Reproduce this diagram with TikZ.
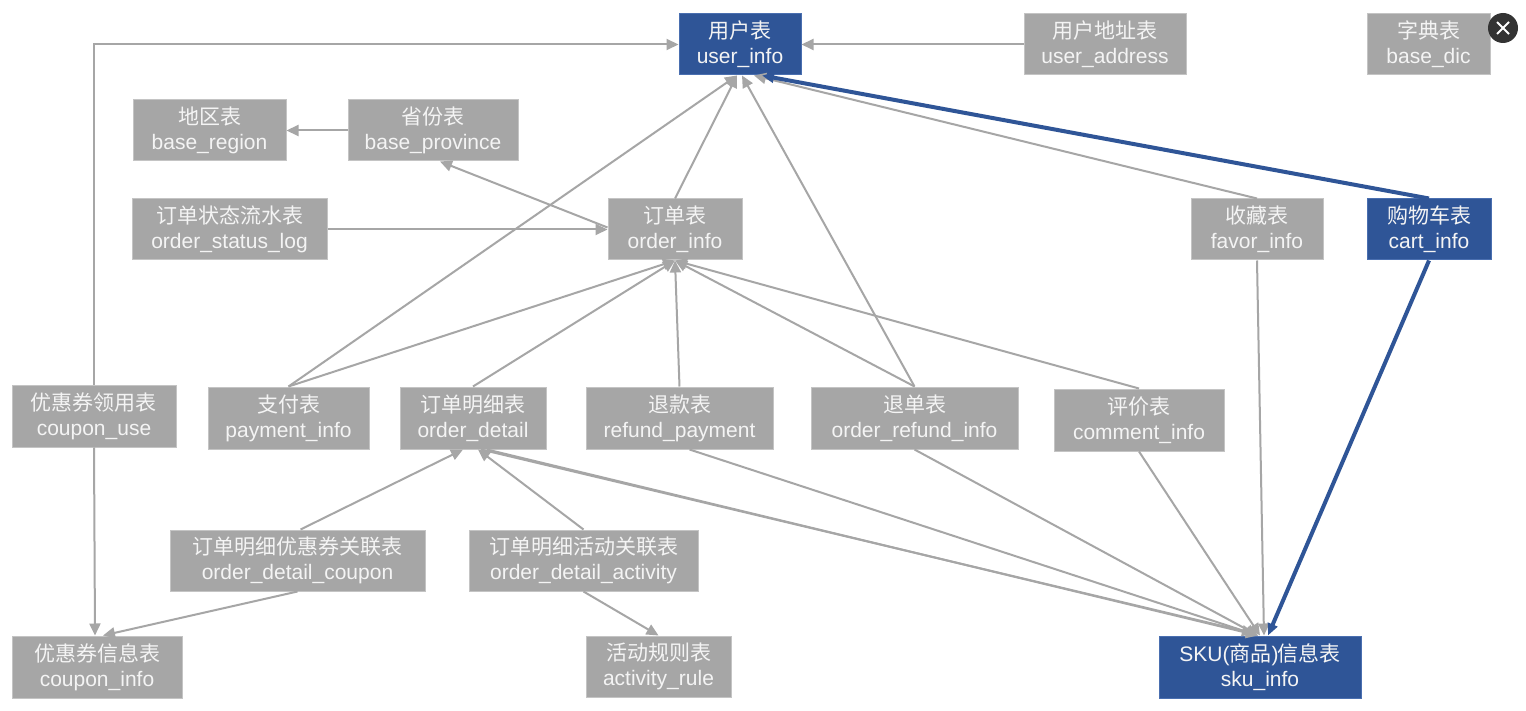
\documentclass[tikz,border=0pt]{standalone}
\usepackage{fontspec}
\setmainfont{Liberation Sans}
\newfontfamily\cjk{Noto Sans CJK SC}
\usetikzlibrary{arrows.meta,calc}
\definecolor{boxgray}{HTML}{A6A6A6}
\definecolor{boxedge}{HTML}{C4C4C4}
\definecolor{linegray}{HTML}{A6A6A6}
\definecolor{bluebox}{HTML}{2F5597}
\definecolor{blueedge}{HTML}{4A6FB0}
\definecolor{txt}{HTML}{F4F4F4}
\definecolor{closebtn}{HTML}{333333}
\begin{document}
\begin{tikzpicture}[x=0.5pt,y=-0.5pt,
  tbl/.style={rectangle, inner sep=0pt, align=center, text=txt, line width=0.5pt,
    font=\fontsize{10.5pt}{12.5pt}\selectfont},
  gtbl/.style={tbl, fill=boxgray, draw=boxedge},
  btbl/.style={tbl, fill=bluebox, draw=blueedge},
  conn/.style={draw=linegray, line width=1pt, -{Triangle[length=6pt,width=5.5pt]}},
  bconn/.style={draw=bluebox, line width=2pt, -{Triangle[length=6pt,width=5pt]}},
]
\useasboundingbox (0,0) rectangle (1526,711);
\fill[white] (0,0) rectangle (1526,711);

% ---------- nodes ----------
\node[btbl, minimum width=61pt, minimum height=30.5pt] (ui) at (740,44.5) {{\cjk 用户表}\\user\_info};
\node[gtbl, minimum width=81pt, minimum height=30.5pt] (ua) at (1105,44.5) {{\cjk 用户地址表}\\user\_address};
\node[gtbl, minimum width=61.5pt, minimum height=30.5pt] (dic) at (1428.5,44.5) {{\cjk 字典表}\\base\_dic};
\node[gtbl, minimum width=76.5pt, minimum height=30.5pt] (br) at (209.5,130.5) {{\cjk 地区表}\\base\_region};
\node[gtbl, minimum width=85pt, minimum height=30.5pt] (bp) at (433,130.5) {{\cjk 省份表}\\base\_province};
\node[gtbl, minimum width=97.5pt, minimum height=30.5pt] (osl) at (229.5,229.5) {{\cjk 订单状态流水表}\\order\_status\_log};
\node[gtbl, minimum width=67pt, minimum height=30.5pt] (oi) at (675,229.5) {{\cjk 订单表}\\order\_info};
\node[gtbl, minimum width=66pt, minimum height=30.5pt] (fi) at (1257,229.5) {{\cjk 收藏表}\\favor\_info};
\node[btbl, minimum width=62pt, minimum height=30.5pt] (cart) at (1429,229.5) {{\cjk 购物车表}\\cart\_info};
\node[gtbl, minimum width=82pt, minimum height=31pt] (cu) at (94,416) {{\cjk 优惠券领用表}\\coupon\_use};
\node[gtbl, minimum width=80.5pt, minimum height=31pt] (pay) at (288.5,418) {{\cjk 支付表}\\payment\_info};
\node[gtbl, minimum width=73pt, minimum height=31pt] (od) at (473,418) {{\cjk 订单明细表}\\order\_detail};
\node[gtbl, minimum width=93.5pt, minimum height=31pt] (rp) at (679.5,418) {{\cjk 退款表}\\refund\_payment};
\node[gtbl, minimum width=103.5pt, minimum height=31pt] (ori) at (914.5,418) {{\cjk 退单表}\\order\_refund\_info};
\node[gtbl, minimum width=85pt, minimum height=31pt] (ci) at (1139,420) {{\cjk 评价表}\\comment\_info};
\node[gtbl, minimum width=127.5pt, minimum height=30.5pt] (odc) at (297.5,560.5) {{\cjk 订单明细优惠券关联表}\\order\_detail\_coupon};
\node[gtbl, minimum width=114.5pt, minimum height=30.5pt] (oda) at (583.5,560.5) {{\cjk 订单明细活动关联表}\\order\_detail\_activity};
\node[gtbl, minimum width=85pt, minimum height=31pt] (cinfo) at (97,667) {{\cjk 优惠券信息表}\\coupon\_info};
\node[gtbl, minimum width=72.5pt, minimum height=30.5pt] (ar) at (658.5,666.5) {{\cjk 活动规则表}\\activity\_rule};
\node[btbl, minimum width=101pt, minimum height=31pt] (sku) at (1260,667) {SKU({\cjk 商品})\kern-0.5pt{\cjk 信息表}\\sku\_info};

% close button
\node[circle, fill=closebtn, minimum size=15pt, inner sep=0pt] (close) at (1503,28) {};
\draw[white, line width=1pt] ($(close.center)+(-6,-6)$) -- ($(close.center)+(6,6)$);
\draw[white, line width=1pt] ($(close.center)+(-6,6)$) -- ($(close.center)+(6,-6)$);

% ---------- connectors ----------
\draw[conn] (cu.north) |- (ui.west);
\draw[conn] (ua.west) -- (ui.east);
\draw[conn] (bp.west) -- (br.east);
\draw[conn] ($(oi.west)+(0,-2)$) -- ($(bp.south)+(7,0)$);
\draw[conn] (osl.east) -- (oi.west);

\draw[conn] (oi.north) -- ($(ui.south)+(-3,0)$);
\draw[conn] (pay.north) -- ($(ui.south)+(-3,0)$);
\draw[conn] (pay.north) -- (oi.south);
\draw[conn] (od.north) -- (oi.south);
\draw[conn] (rp.north) -- (oi.south);
\draw[conn] (ori.north) -- (oi.south);
\draw[conn] (ci.north) -- (oi.south);
\draw[conn] (ori.north) -- ($(ui.south)+(2,0)$);
\draw[conn] (fi.north) -- ($(ui.south)+(14,0)$);
\draw[bconn] (cart.north) -- ($(ui.south)+(22,0)$);

\draw[conn] ($(odc.north)+(3,0)$) -- ($(od.south)+(-10,0)$);
\draw[conn] (oda.north) -- ($(od.south)+(5,0)$);

\draw[conn] ($(od.south)+(8,0)$) -- ($(sku.north)+(-6,-2)$);
\draw[conn] ($(od.south)+(14,0)$) -- ($(sku.north)+(-2,0)$);
\draw[conn] ($(rp.south)+(10,0)$) -- ($(sku.north)+(-2,0)$);
\draw[conn] (ori.south) -- ($(sku.north)+(-2,0)$);
\draw[conn] (ci.south) -- ($(sku.north)+(0,0)$);
\draw[conn] (fi.south) -- ($(sku.north)+(4,0)$);
\draw[bconn] (cart.south) -- ($(sku.north)+(8,0)$);

\draw[conn] (cu.south) -- ($(cinfo.north)+(-2,0)$);
\draw[conn] (odc.south) -- ($(cinfo.north)+(6,0)$);
\draw[conn] (oda.south) -- (ar.north);
\end{tikzpicture}
\end{document}
